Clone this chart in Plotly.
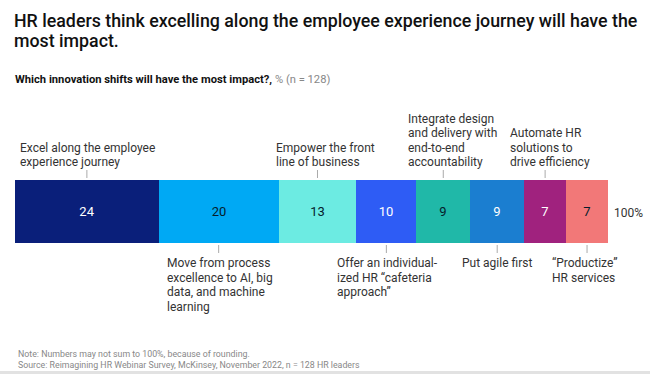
import plotly.graph_objects as go

# ---- data ----
categories = [
    "Excel along the employee<br>experience journey",
    "Move from process<br>excellence to AI, big<br>data, and machine<br>learning",
    "Empower the front<br>line of business",
    "Offer an individual-<br>ized HR \u201ccafeteria<br>approach\u201d",
    "Integrate design<br>and delivery with<br>end-to-end<br>accountability",
    "Put agile first",
    "Automate HR<br>solutions to<br>drive efficiency",
    "\u201cProductize\u201d<br>HR services",
]
values = [24, 20, 13, 10, 9, 9, 7, 7]
total_label = "100%"

# ---- styles ----
colors = ["#0a1f7a", "#00a9f4", "#6cebe2", "#2e5cf5", "#20b8a8", "#1b7ed0", "#a0227e", "#f27878"]
text_colors = ["#ffffff", "#051c2c", "#051c2c", "#ffffff", "#051c2c", "#ffffff", "#ffffff", "#051c2c"]
label_side = ["above", "below", "above", "below", "above", "below", "above", "below"]
label_left_px = [18, 165, 274, 335, 406, 460, 508, 550]

W, H = 650, 374
L, R, T, B = 15, 42, 180, 131
PW = W - L - R
PH = H - T - B
FONT = "Roboto"


def py(p):
    return (H - B - p) / PH


def px(p):
    return (p - L) / PW


fig = go.Figure()
for cat, v, c, tc in zip(categories, values, colors, text_colors):
    fig.add_trace(go.Bar(
        x=[v], y=[0], orientation="h", name=cat.replace("<br>", " "),
        marker=dict(color=c, line=dict(width=0)),
        text=[str(v)], textposition="inside", insidetextanchor="middle",
        textangle=0, textfont=dict(color=tc, size=13, family=FONT),
        hoverinfo="skip", width=1,
    ))

annotations = []
shapes = []
line_h = 14.5
cum = 0
for cat, v, side, lpx in zip(categories, values, label_side, label_left_px):
    center = cum + v / 2
    cum += v
    lines = cat.split("<br>")
    if side == "above":
        shapes.append(dict(type="line", xref="x", yref="paper", x0=center, x1=center,
                           y0=py(178), y1=py(170), line=dict(color="#aaaaaa", width=1)))
        n = len(lines)
        for i, t in enumerate(lines):
            yc = 162 - (n - 1 - i) * line_h
            annotations.append(dict(text=t, xref="paper", yref="paper", x=px(lpx), y=py(yc),
                                    xanchor="left", yanchor="middle", showarrow=False,
                                    font=dict(size=12, color="#333333", family=FONT)))
    else:
        shapes.append(dict(type="line", xref="x", yref="paper", x0=center, x1=center,
                           y0=py(245), y1=py(253), line=dict(color="#aaaaaa", width=1)))
        for i, t in enumerate(lines):
            yc = 263 + i * line_h
            annotations.append(dict(text=t, xref="paper", yref="paper", x=px(lpx), y=py(yc),
                                    xanchor="left", yanchor="middle", showarrow=False,
                                    font=dict(size=12, color="#333333", family=FONT)))

annotations.append(dict(text=total_label, xref="paper", yref="paper", x=px(612), y=py(213),
                        xanchor="left", yanchor="middle", showarrow=False,
                        font=dict(size=12, color="#333333", family=FONT)))

title_lines = ["HR leaders think excelling along the employee experience journey will have the",
               "most impact."]
for i, t in enumerate(title_lines):
    annotations.append(dict(text=t, xref="paper", yref="paper", x=px(12), y=py(20 + i * 20),
                            xanchor="left", yanchor="middle", showarrow=False,
                            font=dict(size=17.8, color="#111111", family=FONT, weight=500)))

annotations.append(dict(text="<b>Which innovation shifts will have the most impact?,</b> "
                             "<span style='color:#888888'>% (n = 128)</span>",
                        xref="paper", yref="paper", x=px(13), y=py(79),
                        xanchor="left", yanchor="middle", showarrow=False,
                        font=dict(size=11.2, color="#111111", family=FONT)))

foot = ["Note: Numbers may not sum to 100%, because of rounding.",
        "Source: Reimagining HR Webinar Survey, McKinsey, November 2022, n = 128 HR leaders"]
for i, t in enumerate(foot):
    annotations.append(dict(text=t, xref="paper", yref="paper", x=px(16), y=py(354 + i * 11),
                            xanchor="left", yanchor="middle", showarrow=False,
                            font=dict(size=8.8, color="#888888", family=FONT)))

shapes.append(dict(type="rect", xref="paper", yref="paper", x0=px(0), x1=px(W),
                   y0=py(374), y1=py(371), fillcolor="#e2e2e2", line=dict(width=0), layer="below"))

fig.update_layout(
    width=W, height=H, margin=dict(l=L, r=R, t=T, b=B, pad=0),
    barmode="stack", showlegend=False,
    paper_bgcolor="white", plot_bgcolor="white",
    xaxis=dict(range=[0, sum(values)], visible=False, fixedrange=True),
    yaxis=dict(range=[-0.5, 0.5], visible=False, fixedrange=True),
    annotations=annotations, shapes=shapes,
    bargap=0,
)
fig.write_html("out.html", config={"displayModeBar": False},
               post_script="document.body.style.margin='0';document.body.style.overflow='hidden';")
